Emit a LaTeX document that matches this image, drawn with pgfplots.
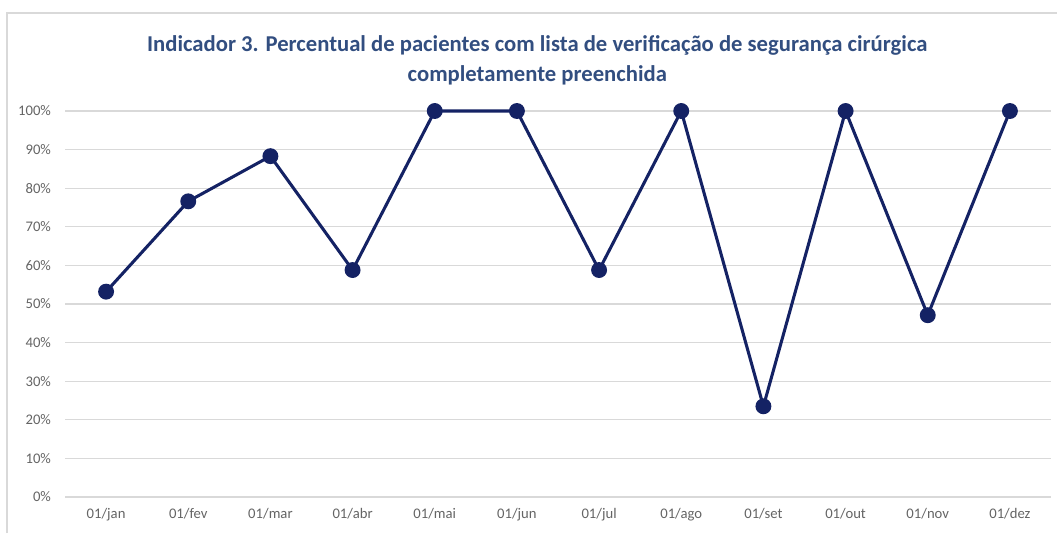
\documentclass[border=0pt]{standalone}
\usepackage{pgfplots}
\pgfplotsset{compat=1.18}
\usepackage{fontspec}
\setmainfont{Carlito}
\definecolor{titleblue}{RGB}{50,78,128}
\definecolor{navy}{RGB}{20,34,100}
\definecolor{ticklab}{RGB}{100,100,100}
\definecolor{gridc}{RGB}{217,217,217}
\begin{document}
\begin{tikzpicture}
\path[use as bounding box] (0,0) rectangle (792.75pt,-399.75pt);
\draw[gridc, line width=1.2pt] (5.25pt,-399.75pt) -- (5.25pt,-9.75pt) -- (792.75pt,-9.75pt);
\node[text=titleblue, font=\bfseries\fontsize{17}{22.5}\selectfont, align=center, anchor=center] at (403pt,-45pt)
  {Indicador 3. Percentual de pacientes com lista de verificação de segurança cirúrgica\\completamente preenchida};
\begin{axis}[
  at={(48.75pt,-372.75pt)}, anchor=south west,
  scale only axis, width=739.5pt, height=289.5pt,
  xmin=-0.5, xmax=11.5, ymin=0, ymax=100,
  axis line style={draw=none},
  xtick={0,...,11},
  xticklabels={01/jan,01/fev,01/mar,01/abr,01/mai,01/jun,01/jul,01/ago,01/set,01/out,01/nov,01/dez},
  ytick={0,10,...,100},
  yticklabel={\pgfmathprintnumber{\tick}\%},
  /pgf/number format/assume math mode=true,
  major tick length=0pt,
  ymajorgrids, grid style={gridc, line width=0.9pt},
  tick label style={text=ticklab, font=\fontsize{11}{12}\selectfont},
  yticklabel style={xshift=-7pt},
  xticklabel style={yshift=-5pt},
  clip=false,
]
\addplot[navy, line width=2.3pt, mark=*, mark size=4.8pt, mark options={fill=navy, draw=navy}]
  coordinates {(0,53.2) (1,76.6) (2,88.3) (3,58.8) (4,100) (5,100) (6,58.8) (7,100) (8,23.5) (9,100) (10,47.1) (11,100)};
\end{axis}
\end{tikzpicture}
\end{document}
